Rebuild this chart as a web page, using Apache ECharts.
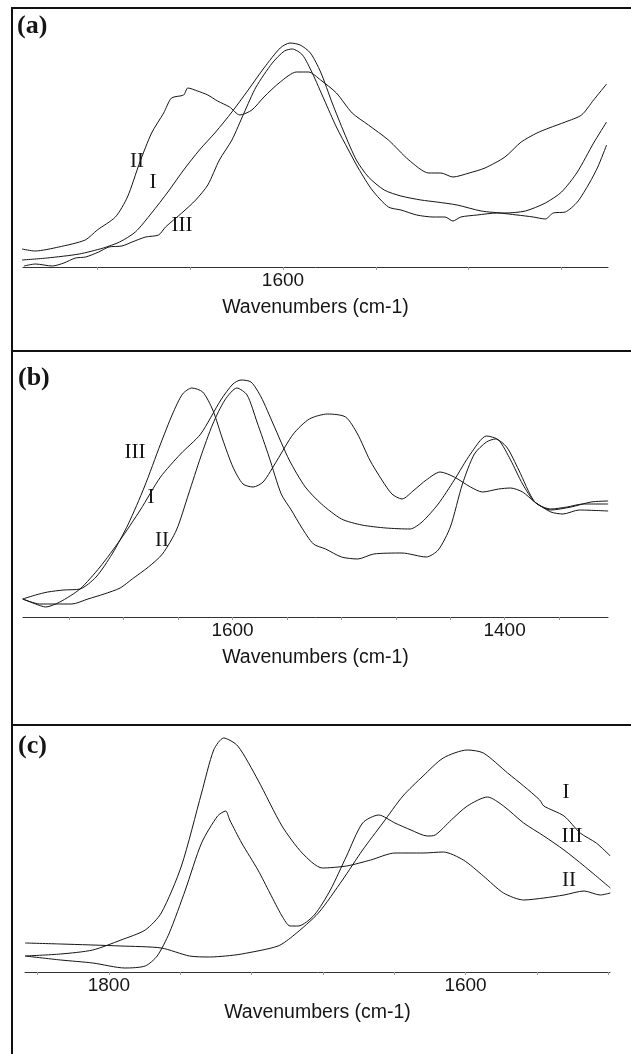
<!DOCTYPE html>
<html>
<head>
<meta charset="utf-8">
<title>IR spectra (a)-(c)</title>
<script src="https://cdn.jsdelivr.net/npm/echarts@6.0.0/dist/echarts.min.js"></script>
<style>
  html, body { margin: 0; padding: 0; background: #fff; }
  #main { width: 631px; height: 1054px; }
</style>
</head>
<body>
<div id="main"></div>
<script>
// [wavenumber (cm-1), absorbance (arb. units)]

// panel (a)
var a_I = [[1656.2,7],[1650.8,9],[1643.9,13],[1638.7,19],[1635.2,25],[1631.8,35],[1628.3,54],[1624.8,75],[1621.4,97],[1618,117],[1614.5,135],[1611,155],[1607.5,177],[1604.1,199],[1600.6,219],[1598.5,224],[1596.3,222],[1594.1,214],[1591.9,195],[1589.4,164],[1586.8,134],[1584.2,107],[1581.6,90],[1578.2,77],[1574.6,71],[1570.3,67],[1566.9,65],[1562.5,62],[1557.3,56],[1552.2,54],[1547.8,56],[1543.5,64],[1540,75],[1536.6,95],[1533.1,124],[1530.3,145]];
var a_II = [[1656.2,18],[1653.4,16],[1648.3,20],[1642.6,27],[1640,37],[1636.1,50],[1633.5,70],[1630.9,104],[1628.3,134],[1625.7,154],[1624,169],[1621.4,172],[1620.5,179],[1618.4,176],[1616.2,172],[1614.1,166],[1611.5,160],[1609.3,152],[1606.7,157],[1604.1,170],[1600.6,185],[1597.1,195],[1594.5,195],[1591.9,187],[1588.5,174],[1585.1,154],[1581.6,142],[1577.3,127],[1572.9,107],[1568.6,94],[1566,94],[1563.4,90],[1559.9,94],[1556.5,99],[1552.2,110],[1548.7,125],[1545.3,134],[1542.7,139],[1539.2,145],[1535.7,152],[1533.1,167],[1530.3,183]];
var a_III = [[1655.8,1],[1653.3,3],[1649.7,1],[1647.2,4],[1644.7,9],[1642.5,10],[1639.7,15],[1637.5,20],[1634.7,21],[1632.5,25],[1629.6,30],[1626.8,32],[1625.3,40],[1621.8,54],[1618.8,67],[1616.2,82],[1613.7,107],[1611,127],[1608.4,154],[1605.8,180],[1602.3,204],[1599.7,216],[1598,218],[1595.8,212],[1593.7,194],[1591.1,167],[1588.5,140],[1585.9,117],[1583.8,99],[1580.8,77],[1577.3,60],[1574.6,57],[1571.2,52],[1567.7,50],[1565.1,50],[1563.4,46],[1561.7,50],[1558.2,52],[1553.9,54],[1549.6,52],[1546.1,50],[1543.5,48],[1541.8,54],[1539.2,55],[1536.6,65],[1534,84],[1532.2,100],[1530.3,122]];
var aTicks = [1640, 1620, 1600, 1580, 1560, 1540];
var aLabels = [1600];

// panel (b)
var b_I = [[1754.2,18],[1744.7,13],[1737.3,10],[1726.9,15],[1712.1,28],[1697.4,50],[1682.6,77],[1667.8,107],[1652.9,140],[1638.2,163],[1623.4,183],[1608.6,217],[1599.7,233],[1593.8,237],[1586.4,235],[1579,220],[1570.1,193],[1558.3,157],[1546.5,130],[1534.6,113],[1519.9,98],[1505,92],[1487.3,89],[1469.5,88],[1460.7,95],[1448.8,113],[1437,137],[1425.1,163],[1413.3,181],[1404.4,177],[1395.6,157],[1386.8,133],[1377.8,115],[1366,107],[1351.2,110],[1336.4,115],[1323.9,116]];
var b_II = [[1754.2,18],[1741.8,13],[1729.9,13],[1718.1,13],[1706.3,18],[1694.4,23],[1682.6,29],[1673.7,38],[1661.8,50],[1651.5,63],[1641.2,87],[1632.3,123],[1623.4,160],[1614.5,193],[1605.6,217],[1596.8,229],[1589.3,222],[1582,195],[1573.1,160],[1564.2,123],[1556.8,107],[1549.4,90],[1540.5,73],[1531.6,68],[1519.9,60],[1508,58],[1496.2,63],[1475.4,64],[1457.6,60],[1448.8,67],[1439.9,90],[1431,133],[1422.2,163],[1413.3,175],[1406.8,178],[1398.5,170],[1389.6,147],[1377.8,115],[1366,108],[1354.1,110],[1342.3,113],[1323.9,113]];
var b_III = [[1754.2,18],[1744.7,22],[1735.8,25],[1724,27],[1712.1,28],[1700.3,40],[1688.5,63],[1676.6,93],[1664.8,130],[1652.9,173],[1644.1,203],[1636.7,223],[1629.9,229],[1621.9,225],[1614.5,207],[1607.1,177],[1599.7,150],[1592.3,133],[1584.9,130],[1577.5,135],[1567.1,157],[1555.3,183],[1543.5,198],[1530.1,203],[1516.9,200],[1508.1,183],[1499.1,157],[1490.2,137],[1482.8,123],[1475.4,118],[1466.5,127],[1457.6,137],[1447.4,145],[1437,140],[1425.1,130],[1416.2,125],[1404.4,128],[1395.6,129],[1386.8,125],[1377.8,115],[1366,105],[1357.1,103],[1345.2,107],[1323.9,106]];
var bTicks = [1720, 1680, 1640, 1600, 1560, 1520, 1480, 1440, 1400, 1360];
var bLabels = [1600, 1400];

// panel (c)
var c_I = [[1846.9,29],[1827,28],[1793.2,26],[1770.6,24],[1754.8,16],[1743.5,15],[1734.5,16],[1725.5,18],[1705.1,26],[1696.1,37],[1682.5,59],[1669,92],[1657.7,122],[1646.4,149],[1635.1,176],[1623.8,196],[1612.5,214],[1599,222],[1590,219],[1576.4,199],[1567.4,186],[1558.4,172],[1556.1,166],[1544.8,156],[1535.7,139],[1526.7,129],[1518.8,116]];
var c_II = [[1846.9,16],[1827,18],[1809,22],[1793.2,32],[1779.6,42],[1770.6,59],[1759.3,106],[1748,179],[1741.2,222],[1735.6,234],[1727.7,226],[1716.4,192],[1702.9,146],[1691.6,119],[1680.3,104],[1666.7,106],[1653.2,112],[1639.6,119],[1623.8,119],[1612.5,120],[1601.2,112],[1590,96],[1578.7,79],[1567.4,72],[1556.1,74],[1544.8,77],[1533.5,81],[1524.5,77],[1518.8,79]];
var c_III = [[1846.9,16],[1827,12],[1809,9],[1791,4],[1779.6,6],[1772.9,16],[1766.1,39],[1757.1,82],[1748,129],[1739,156],[1734.5,161],[1732.2,152],[1725.5,129],[1716.4,102],[1709.7,79],[1702.9,56],[1698.4,46],[1693.8,46],[1684.8,57],[1675.8,82],[1666.7,116],[1657.7,149],[1648.7,157],[1639.6,149],[1630.6,142],[1621.5,136],[1617,137],[1608,152],[1599,166],[1587.7,175],[1578.7,166],[1567.4,149],[1556.1,136],[1544.8,122],[1533.5,106],[1518.8,84]];
var cTicks = [1840, 1800, 1760, 1720, 1680, 1640, 1600, 1560, 1520];
var cLabels = [1800, 1600];

var sans = '"Liberation Sans", Arial, sans-serif';
var serif = '"Liberation Serif", "Times New Roman", serif';
var ink = '#151515';

// bottom x axis, wavenumbers decreasing to the right
function xAxisFor(gridIndex, min, max, ticks, labels) {
	return {
		type: 'value',
		gridIndex: gridIndex,
		inverse: true,
		min: min,
		max: max,
		name: 'Wavenumbers (cm-1)',
		nameLocation: 'middle',
		nameGap: 31,
		nameTextStyle: { fontFamily: sans, fontSize: 19.5, color: ink },
		axisLine: { show: true, onZero: false, lineStyle: { color: '#333', width: 1 } },
		axisTick: { show: true, length: 3, customValues: ticks, lineStyle: { color: '#999', width: 1 } },
		axisLabel: {
			show: true,
			customValues: labels,
			margin: 4,
			fontFamily: sans,
			fontSize: 19,
			color: ink,
			formatter: function(v) { return String(v); }
		},
		splitLine: { show: false }
	};
}

function yAxisFor(gridIndex) {
	return { type: 'value', gridIndex: gridIndex, min: 0, max: 250, show: false };
}

function line(name, data, idx) {
	return {
		name: name,
		type: 'line',
		xAxisIndex: idx,
		yAxisIndex: idx,
		data: data,
		showSymbol: false,
		smooth: 0.25,
		lineStyle: { color: ink, width: 1 },
		silent: true
	};
}

function label(txt, x, y, bold) {
	return {
		type: 'text',
		x: x,
		y: y,
		style: {
			text: txt,
			font: (bold ? 'bold 26px ' : '21px ') + serif,
			fill: ink,
			align: bold ? 'left' : 'center',
			verticalAlign: 'middle'
		}
	};
}

function rule(x1, y1, x2, y2) {
	return { type: 'line', shape: { x1: x1, y1: y1, x2: x2, y2: y2 }, style: { stroke: '#111', lineWidth: 2 } };
}

var chart = echarts.init(document.getElementById('main'), null, { renderer: 'canvas' });

var option = {
	animation: false,
	backgroundColor: '#fff',
	grid: [
		{ left: 23, right: 23, top: 17, height: 250, outerBoundsMode: 'none' },
		{ left: 23, right: 23, top: 367, height: 250, outerBoundsMode: 'none' },
		{ left: 25, right: 21, top: 722, height: 250, outerBoundsMode: 'none' }
	],
	xAxis: [
		xAxisFor(0, 1530, 1656, aTicks, aLabels),
		xAxisFor(1, 1324, 1754, bTicks, bLabels),
		xAxisFor(2, 1519, 1847, cTicks, cLabels)
	],
	yAxis: [yAxisFor(0), yAxisFor(1), yAxisFor(2)],
	series: [
		line('a-I', a_I, 0), line('a-II', a_II, 0), line('a-III', a_III, 0),
		line('b-I', b_I, 1), line('b-II', b_II, 1), line('b-III', b_III, 1),
		line('c-I', c_I, 2), line('c-II', c_II, 2), line('c-III', c_III, 2)
	],
	graphic: [
		// panel frames
		rule(12, 8, 12, 1054),
		rule(11, 8, 631, 8),
		rule(11, 351, 631, 351),
		rule(11, 725, 631, 725),
		// panel letters
		label('(a)', 17, 26, true),
		label('(b)', 18, 378, true),
		label('(c)', 18, 746, true),
		// curve labels
		label('II', 137, 161), label('I', 153, 182), label('III', 182, 225),
		label('III', 135, 452), label('I', 151, 497), label('II', 162, 540),
		label('I', 566, 792), label('III', 572, 836), label('II', 569, 880)
	]
};

chart.setOption(option);
</script>
</body>
</html>
